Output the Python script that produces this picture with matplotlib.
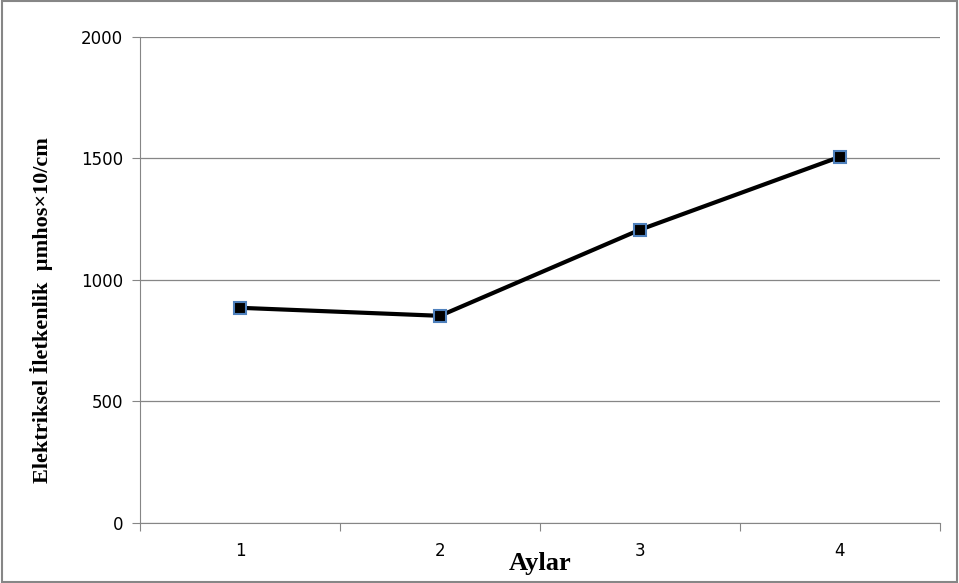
import matplotlib
matplotlib.use('Agg')
import matplotlib.pyplot as plt
from matplotlib.patches import Rectangle

months = [1, 2, 3, 4]
month_labels = ['1', '2', '3', '4']
conductivity = [885, 852, 1206, 1506]

fig = plt.figure(figsize=(9.59, 5.83), dpi=100)
ax = fig.add_axes([0.146, 0.103, 0.834, 0.834])

ax.plot(months, conductivity, color='black', lw=3, marker='s', ms=8,
        markerfacecolor='black', markeredgecolor='#4f81bd', markeredgewidth=1.5, zorder=3)

ax.set_xlim(0.5, 4.5)
ax.set_ylim(0, 2000)
ax.set_yticks([0, 500, 1000, 1500, 2000])
ax.set_xticks([0.5, 1.5, 2.5, 3.5, 4.5])
ax.set_xticklabels([])
ax.set_xticks(months, minor=True)
ax.set_xticklabels(month_labels, minor=True)
ax.tick_params(axis='x', which='minor', length=0, pad=14, labelsize=12)
ax.tick_params(axis='x', which='major', length=6, color='#868686', direction='out')
ax.tick_params(axis='y', length=6, color='#868686', labelsize=12, pad=6)
ax.grid(axis='y', color='#868686', lw=0.9)
ax.set_axisbelow(True)
for s in ['top', 'right']:
    ax.spines[s].set_visible(False)
for s in ['left', 'bottom']:
    ax.spines[s].set_color('#868686')

fig.text(0.043, 0.468, 'Elektriksel İletkenlik  µmhos×10/cm', family='Liberation Serif',
         fontweight='bold', fontsize=16, rotation=90, ha='center', va='center')
fig.text(0.563, 0.033, 'Aylar', family='Liberation Serif', fontweight='bold',
         fontsize=19, ha='center', va='center')

fig.patches.append(Rectangle((0.002, 0.002), 0.996, 0.996, transform=fig.transFigure,
                             fill=False, edgecolor='#868686', lw=1.5))

fig.savefig('out.png', dpi=100)
